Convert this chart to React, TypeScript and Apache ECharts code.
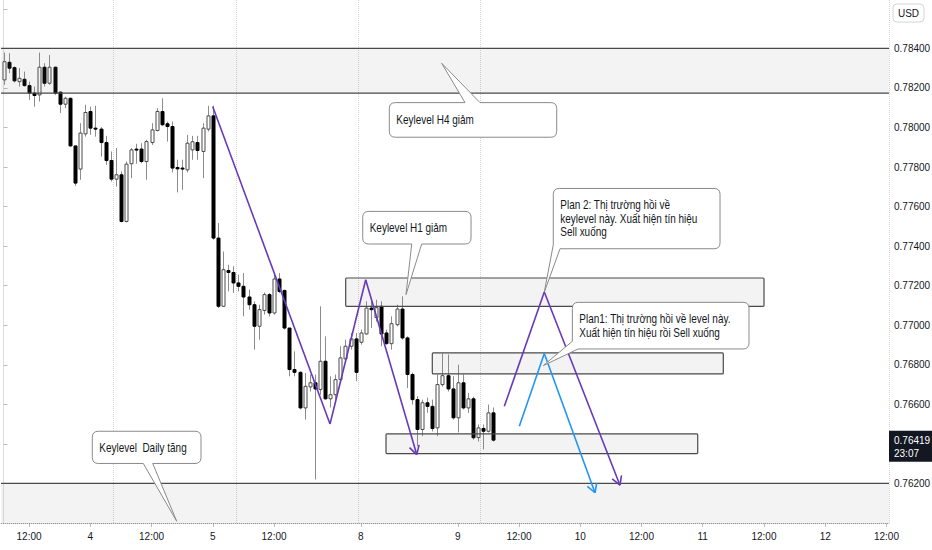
import React, { useEffect, useRef } from "react";
import * as echarts from "echarts";

// ---------- candle data (H1 bars) ----------
const opens = [
  0.78241, 0.7833, 0.78303, 0.78232, 0.78244, 0.78212, 0.78174, 0.78165, 0.78305, 0.78224,
  0.78305, 0.78179, 0.78118, 0.78148, 0.77907, 0.7779, 0.77968, 0.78081, 0.77997, 0.77992,
  0.77924, 0.77833, 0.77739, 0.77761, 0.77525, 0.77817, 0.77891, 0.77891, 0.77828, 0.77924,
  0.77985, 0.78081, 0.78019, 0.78005, 0.77798, 0.77795, 0.77786, 0.77887, 0.77924, 0.77879,
  0.77992, 0.78059, 0.77441, 0.77096, 0.77277, 0.77267, 0.77214, 0.77197, 0.77143, 0.77104,
  0.76995, 0.77075, 0.77155, 0.77062, 0.77234, 0.77176, 0.76986, 0.76776, 0.76762, 0.76582,
  0.76688, 0.76709, 0.76675, 0.76818, 0.76628, 0.76649, 0.76725, 0.7683, 0.76894, 0.76931,
  0.76914, 0.76956, 0.77087, 0.77039, 0.77096, 0.76961, 0.76907, 0.77003, 0.77082, 0.76936,
  0.76751, 0.76624, 0.76473, 0.76608, 0.7659, 0.76481, 0.767, 0.76745, 0.76678, 0.76532,
  0.76709, 0.76582, 0.76628, 0.76432, 0.76478, 0.76464, 0.76557,
];
const highs = [
  0.78379, 0.78376, 0.78309, 0.78301, 0.78283, 0.78232, 0.78207, 0.78379, 0.78325, 0.78367,
  0.78308, 0.78182, 0.78156, 0.7815, 0.77907, 0.78022, 0.78115, 0.78106, 0.7811, 0.78002,
  0.77958, 0.77879, 0.77896, 0.77778, 0.77828, 0.77896, 0.77918, 0.77921, 0.77938, 0.78022,
  0.78098, 0.78148, 0.7803, 0.7803, 0.77837, 0.77837, 0.77963, 0.77958, 0.77958, 0.78022,
  0.7811, 0.7811, 0.77517, 0.77373, 0.77306, 0.77298, 0.77256, 0.77264, 0.7718, 0.77121,
  0.77104, 0.77166, 0.77163, 0.77264, 0.77264, 0.7718, 0.76986, 0.76868, 0.76767, 0.76759,
  0.76751, 0.76751, 0.77096, 0.76944, 0.76742, 0.76751, 0.76894, 0.76927, 0.76961, 0.76961,
  0.76978, 0.77121, 0.77121, 0.77129, 0.77121, 0.76978, 0.77045, 0.77104, 0.77146, 0.76944,
  0.76761, 0.76641, 0.76624, 0.76634, 0.76624, 0.76751, 0.76857, 0.76852, 0.76742, 0.76801,
  0.76751, 0.76658, 0.76639, 0.76498, 0.76498, 0.76599, 0.76584,
];
const lows = [
  0.78216, 0.78275, 0.78228, 0.78207, 0.78207, 0.7814, 0.78106, 0.78131, 0.78207, 0.78216,
  0.78165, 0.78073, 0.78098, 0.77904, 0.77705, 0.77736, 0.77954, 0.77963, 0.77954, 0.77853,
  0.77811, 0.77727, 0.77702, 0.7752, 0.7752, 0.77744, 0.77817, 0.7782, 0.77736, 0.77912,
  0.7798, 0.78008, 0.77929, 0.77773, 0.77672, 0.77685, 0.77773, 0.77837, 0.77837, 0.77744,
  0.7798, 0.77433, 0.77087, 0.77094, 0.77171, 0.77163, 0.77171, 0.77045, 0.77079, 0.76877,
  0.76927, 0.77054, 0.77045, 0.77054, 0.77163, 0.76978, 0.76742, 0.76742, 0.76574, 0.76523,
  0.76665, 0.7622, 0.76649, 0.76624, 0.76584, 0.76624, 0.76709, 0.7681, 0.76877, 0.76717,
  0.76902, 0.76953, 0.76986, 0.77018, 0.76894, 0.76902, 0.76877, 0.76995, 0.76927, 0.76683,
  0.76599, 0.76388, 0.76439, 0.76557, 0.76463, 0.76439, 0.7669, 0.76665, 0.76523, 0.76458,
  0.76574, 0.76557, 0.76422, 0.76412, 0.76372, 0.76458, 0.76412,
];
const closes = [
  0.78333, 0.783, 0.78236, 0.78249, 0.78212, 0.78174, 0.78162, 0.78305, 0.78224, 0.78305,
  0.78174, 0.78118, 0.78148, 0.77907, 0.77719, 0.77972, 0.78076, 0.77997, 0.77992, 0.77924,
  0.77833, 0.77739, 0.77761, 0.77525, 0.77815, 0.77887, 0.77886, 0.77828, 0.77929, 0.77988,
  0.78081, 0.78014, 0.78005, 0.77795, 0.77791, 0.7779, 0.77921, 0.77928, 0.77884, 0.77997,
  0.78059, 0.77441, 0.77096, 0.77281, 0.77267, 0.77214, 0.77197, 0.77143, 0.77104, 0.76995,
  0.77079, 0.77155, 0.77062, 0.77234, 0.77171, 0.76986, 0.76776, 0.76762, 0.76582, 0.76691,
  0.76709, 0.76678, 0.76818, 0.76628, 0.76649, 0.76725, 0.76835, 0.76894, 0.76931, 0.76762,
  0.76961, 0.77087, 0.77079, 0.77089, 0.76956, 0.76907, 0.77008, 0.77082, 0.76936, 0.76751,
  0.76624, 0.76473, 0.76608, 0.7659, 0.76478, 0.767, 0.76745, 0.76678, 0.76532, 0.76709,
  0.76582, 0.76628, 0.76431, 0.76481, 0.76464, 0.76557, 0.76419,
];
const lastPrice = 0.76419;
const lastPriceText = "0.76419";
const countdownText = "23:07";

// ---------- time axis ----------
const SLOT_COUNT = 174; // hourly slots shown (incl. future space)
const FRIDAY_BARS = 70; // bars before the weekend gap
const xTickIndex = [5, 17, 29, 41, 53, 70, 89, 101, 113, 125, 137, 149, 161, 173];
const xTickText = ["12:00", "4", "12:00", "5", "12:00", "8", "9", "12:00", "10", "12:00", "11", "12:00", "12", "12:00"];
const xGridIndex = [22, 46, 70, 94];

// y-axis ticks
const yMin = 0.76;
const yMax = 0.78645;
const yStep = 0.002;
const yLabelTop = 0.785; // labels above this sit under the currency badge
const yLabelHideNear = 0.001; // labels this close to the last price are covered by its tag

// ---------- drawings ----------
// zones: [x start, x end] in bar units, [top, bottom] in price
const zoneX1 = [-3, -3, 67.04, 84.01, 74.94];
const zoneX2 = [177, 177, 149.01, 141.03, 136.02];
const zoneTop = [0.784, 0.762, 0.77239, 0.7686, 0.76451];
const zoneBottom = [0.78174, 0.758, 0.77096, 0.76754, 0.76351];

// waves
const pastWaveX = [40.98, 63.97, 70.96, 80.96];
const pastWaveY = [0.78106, 0.76501, 0.7723, 0.76346];
const plan2WaveX = [98.12, 105.96, 120.79];
const plan2WaveY = [0.7659, 0.77168, 0.76191];
const plan1WaveX = [101.06, 105.96, 115.89];
const plan1WaveY = [0.76489, 0.76857, 0.76153];

// callouts
const calloutTexts = [
  "Keylevel H4 giảm",
  "Keylevel H1 giảm",
  "Plan 2: Thị trường hồi về\nkeylevel này. Xuất hiện tín hiệu\nSell xuống",
  "Plan1: Thị trường hồi về level này.\nXuất hiện tín hiệu rồi Sell xuống",
  "Keylevel  Daily tăng",
];
const calloutLeft = [75.59, 70.38, 107.72, 111.45, 17.39];
const calloutRight = [108.39, 91.6, 140.39, 146.07, 38.69];
const calloutTop = [0.78126, 0.77576, 0.77692, 0.77116, 0.76464];
const calloutBottom = [0.77951, 0.77411, 0.77387, 0.7688, 0.76301];
// tail edge: 0 = top, 1 = bottom, 2 = bottom-left corner
const calloutEdge = [0, 1, 2, 2, 1];
const calloutTailA = [90.42, 79.98, 0.77407, 0.76919, 27.38];
const calloutTailB = [93.36, 81.93, 109.04, 112.56, 29.23];
const calloutTipX = [85.85, 78.86, 105.96, 105.76, 33.93];
const calloutTipY = [0.78325, 0.77155, 0.77168, 0.76796, 0.76009];

const FONT = "'Liberation Sans', Arial, sans-serif";
const TEXT = "#131722";
const PURPLE = "#673ab7";
const BLUE = "#2196f3";

function slotName(k: number): string {
  let day: number, hour: number;
  if (k < FRIDAY_BARS) {
    const t = 7 + k;
    day = 3 + Math.floor(t / 24);
    hour = t % 24;
  } else {
    const t = 5 + (k - FRIDAY_BARS);
    day = 8 + Math.floor(t / 24);
    hour = t % 24;
  }
  return `${day} ${String(hour).padStart(2, "0")}:00`;
}
const categories = Array.from({ length: SLOT_COUNT }, (_, k) => slotName(k));
const tickSet = new Set(xTickIndex);
const gridSet = new Set(xGridIndex);

function bubblePath(
  x1: number, y1: number, x2: number, y2: number, r: number,
  edge: number, a: number, b: number, tx: number, ty: number
) {
  let d = `M${x1 + r},${y1}`;
  if (edge === 0) d += ` L${a},${y1} L${tx},${ty} L${b},${y1}`;
  d += ` L${x2 - r},${y1} Q${x2},${y1} ${x2},${y1 + r} L${x2},${y2 - r} Q${x2},${y2} ${x2 - r},${y2}`;
  if (edge === 1) {
    d += ` L${b},${y2} L${tx},${ty} L${a},${y2} L${x1 + r},${y2} Q${x1},${y2} ${x1},${y2 - r}`;
  } else if (edge === 2) {
    d += ` L${b},${y2} L${tx},${ty} L${x1},${a}`;
  } else {
    d += ` L${x1 + r},${y2} Q${x1},${y2} ${x1},${y2 - r}`;
  }
  d += ` L${x1},${y1 + r} Q${x1},${y1} ${x1 + r},${y1} Z`;
  return d;
}

function waveSeries(xs: number[], ys: number[], color: string) {
  const data = xs.slice(0, -1).map((x, i) => [x, ys[i], xs[i + 1], ys[i + 1], i === xs.length - 2 ? 1 : 0]);
  return {
    type: "custom",
    xAxisIndex: 1,
    yAxisIndex: 0,
    z: 6,
    silent: true,
    clip: true,
    encode: { x: [0, 2], y: [1, 3] },
    data,
    renderItem: (_p: any, api: any) => {
      const p1 = api.coord([api.value(0), api.value(1)]);
      const p2 = api.coord([api.value(2), api.value(3)]);
      const st = { stroke: color, lineWidth: 1.6 };
      const children: any[] = [
        { type: "line", shape: { x1: p1[0], y1: p1[1], x2: p2[0], y2: p2[1] }, style: st },
      ];
      if (api.value(4)) {
        const dx = p2[0] - p1[0];
        const dy = p2[1] - p1[1];
        const len = Math.hypot(dx, dy) || 1;
        const ux = dx / len;
        const uy = dy / len;
        const L = 10;
        const ang = Math.PI / 6;
        [-1, 1].forEach((s) => {
          const c = Math.cos(s * ang);
          const sn = Math.sin(s * ang);
          const rx = -(ux * c - uy * sn);
          const ry = -(ux * sn + uy * c);
          children.push({
            type: "line",
            shape: { x1: p2[0], y1: p2[1], x2: p2[0] + rx * L, y2: p2[1] + ry * L },
            style: st,
          });
        });
      }
      return { type: "group", children };
    },
  };
}

export default function App() {
  const ref = useRef<HTMLDivElement>(null);

  useEffect(() => {
    if (!ref.current) return;
    const chart = echarts.init(ref.current, null, { renderer: "svg" });

    const candleData = opens.map((o, i) => [i, o, closes[i], lows[i], highs[i]]);
    const zoneData = zoneX1.map((x, i) => [x, zoneX2[i], zoneTop[i], zoneBottom[i]]);
    const calloutData = calloutLeft.map((l, i) => [
      l, calloutTop[i], calloutRight[i], calloutBottom[i],
      calloutTailA[i], calloutTailB[i], calloutTipX[i], calloutTipY[i], calloutEdge[i],
    ]);

    const option: any = {
      animation: false,
      backgroundColor: "#ffffff",
      grid: { left: 1, right: 43, top: 0, bottom: 27, containLabel: false, outerBoundsMode: "none" },
      xAxis: [
        {
          type: "category",
          data: categories,
          boundaryGap: true,
          axisLine: { show: true, lineStyle: { color: "#dadce3" } },
          axisTick: {
            show: true,
            alignWithLabel: true,
            interval: (i: number) => tickSet.has(i),
            length: 4,
            lineStyle: { color: "#b8bbc4" },
          },
          axisLabel: {
            interval: (i: number) => tickSet.has(i),
            formatter: (_v: string, i: number) => xTickText[xTickIndex.indexOf(i)] ?? "",
            color: TEXT,
            fontSize: 10,
            fontFamily: FONT,
            margin: 8,
          },
          splitLine: {
            show: true,
            interval: (i: number) => gridSet.has(i),
            lineStyle: { color: "#d4d4d4", type: "dotted", width: 1 },
          },
        },
        { type: "value", min: -0.5, max: SLOT_COUNT - 0.5, show: false },
      ],
      yAxis: {
        type: "value",
        position: "right",
        min: yMin,
        max: yMax,
        interval: yStep,
        axisLine: { show: true, lineStyle: { color: "#dadce3" } },
        axisTick: { show: true, length: 4, lineStyle: { color: "#b8bbc4" } },
        axisLabel: {
          formatter: (v: number) =>
            v > yLabelTop || Math.abs(v - lastPrice) < yLabelHideNear ? "" : v.toFixed(5),
          color: TEXT,
          fontSize: 10,
          fontFamily: FONT,
          margin: 5,
          showMinLabel: false,
          showMaxLabel: false,
        },
        splitLine: { show: false },
      },
      series: [
        {
          type: "custom",
          name: "AUDUSD",
          xAxisIndex: 0,
          yAxisIndex: 0,
          z: 2,
          encode: { x: 0, y: [1, 2, 3, 4] },
          data: candleData,
          renderItem: (_p: any, api: any) => {
            const i = api.value(0);
            const o = api.value(1);
            const c = api.value(2);
            const l = api.value(3);
            const h = api.value(4);
            const pO = api.coord([i, o]);
            const pC = api.coord([i, c]);
            const pH = api.coord([i, h]);
            const pL = api.coord([i, l]);
            const x = Math.round(pO[0]) + 0.5;
            const w = 3;
            const up = c >= o;
            const top = Math.min(pO[1], pC[1]);
            const bot = Math.max(pO[1], pC[1]);
            return {
              type: "group",
              children: [
                {
                  type: "line",
                  shape: { x1: x, y1: pH[1], x2: x, y2: pL[1] },
                  style: { stroke: "#8c8c8c", lineWidth: 1 },
                },
                {
                  type: "rect",
                  shape: { x: x - w / 2, y: top, width: w, height: Math.max(bot - top, 1) },
                  style: { fill: up ? "#ffffff" : "#000000", stroke: up ? "#4a4a4a" : "#000000", lineWidth: 1 },
                },
              ],
            };
          },
          markLine: {
            silent: true,
            symbol: ["none", "none"],
            label: { show: false },
            lineStyle: { color: "#8f929b", type: "dotted", width: 1 },
            data: [{ yAxis: lastPrice }],
          },
        },
        {
          type: "custom",
          name: "zones",
          xAxisIndex: 1,
          yAxisIndex: 0,
          z: 4,
          silent: true,
          clip: true,
          encode: { x: [0, 1], y: [2, 3] },
          data: zoneData,
          renderItem: (_p: any, api: any) => {
            const a = api.coord([api.value(0), api.value(2)]);
            const b = api.coord([api.value(1), api.value(3)]);
            return {
              type: "rect",
              shape: {
                x: Math.min(a[0], b[0]),
                y: Math.min(a[1], b[1]),
                width: Math.abs(b[0] - a[0]),
                height: Math.abs(b[1] - a[1]),
                r: 1,
              },
              style: { fill: "rgba(120,120,120,0.09)", stroke: "#4a4a4a", lineWidth: 1.2 },
            };
          },
        },
        waveSeries(pastWaveX, pastWaveY, PURPLE),
        waveSeries(plan2WaveX, plan2WaveY, PURPLE),
        waveSeries(plan1WaveX, plan1WaveY, BLUE),
        {
          type: "custom",
          name: "callouts",
          xAxisIndex: 1,
          yAxisIndex: 0,
          z: 8,
          silent: true,
          encode: { x: 0, y: 1 },
          data: calloutData,
          renderItem: (params: any, api: any) => {
            const tl = api.coord([api.value(0), api.value(1)]);
            const br = api.coord([api.value(2), api.value(3)]);
            const edge = api.value(8);
            const tip = api.coord([api.value(6), api.value(7)]);
            let a: number;
            let b: number;
            if (edge === 2) {
              a = api.coord([api.value(0), api.value(4)])[1];
              b = api.coord([api.value(5), api.value(1)])[0];
            } else {
              a = api.coord([api.value(4), api.value(1)])[0];
              b = api.coord([api.value(5), api.value(1)])[0];
            }
            const d = bubblePath(tl[0], tl[1], br[0], br[1], 6, edge, a, b, tip[0], tip[1]);
            return {
              type: "group",
              children: [
                {
                  type: "path",
                  shape: { pathData: d },
                  style: { fill: "#ffffff", stroke: "#8a8a8a", lineWidth: 1 },
                },
                {
                  type: "text",
                  x: tl[0] + 7,
                  y: (tl[1] + br[1]) / 2,
                  scaleX: 0.83,
                  style: {
                    text: calloutTexts[params.dataIndex],
                    fill: TEXT,
                    fontSize: 12,
                    fontFamily: FONT,
                    lineHeight: 13.5,
                    align: "left",
                    verticalAlign: "middle",
                  },
                },
              ],
            };
          },
        },
      ],
    };

    chart.setOption(option);

    const py = chart.convertToPixel({ yAxisIndex: 0 }, lastPrice) as number;
    chart.setOption({
      graphic: [
        {
          type: "rect",
          z: 100,
          shape: { x: 889, y: py - 9.5, width: 43, height: 31 },
          style: { fill: "#131722" },
        },
        {
          type: "text",
          z: 101,
          x: 894,
          y: py - 6.5,
          style: {
            text: `${lastPriceText}\n${countdownText}`,
            fill: "#ffffff",
            fontSize: 10,
            lineHeight: 13,
            fontFamily: FONT,
            verticalAlign: "top",
          },
        },
        {
          type: "rect",
          z: 100,
          shape: { x: 893, y: 4, width: 31, height: 18, r: 4 },
          style: { fill: "#ffffff", stroke: "#d1d4dc", lineWidth: 1 },
        },
        {
          type: "text",
          z: 101,
          x: 908.5,
          y: 13.5,
          style: { text: "USD", fill: TEXT, fontSize: 10, fontFamily: FONT, align: "center", verticalAlign: "middle" },
        },
      ],
    });

    return () => chart.dispose();
  }, []);

  return (
    <div
      ref={ref}
      style={{ position: "fixed", left: 0, top: 0, width: 932, height: 550, background: "#fff" }}
    />
  );
}
